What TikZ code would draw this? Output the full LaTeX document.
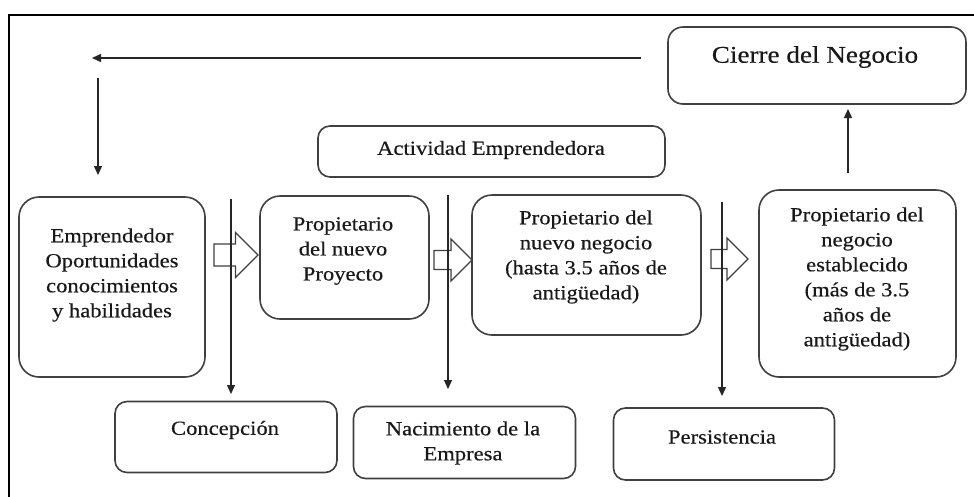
\documentclass[tikz,border=0pt]{standalone}
\usepackage{fontspec}
\setmainfont{Liberation Serif}[FakeStretch=1.13,FakeBold=0.4]
\usetikzlibrary{arrows.meta}
\tikzset{
  boxline/.style={draw=black!75, line width=1.6pt},
  rbox/.style={boxline, rounded corners=#1, inner sep=0pt},
  rbox/.default=20pt,
  txt/.style={inner sep=0pt, align=center, font=\fontsize{20}{25}\selectfont, text=black!90},
  conn/.style={draw=black!85, line width=1.3pt, -{Triangle[width=8pt,length=9pt]}},
  pics/blockarr/.style args={#1/#2/#3}{code={
    \draw[boxline, line width=1.3pt, line join=miter] (0,-#2) -- (#1-#3,-#2) -- (#1-#3,-#3) -- (#1,0) -- (#1-#3,#3) -- (#1-#3,#2) -- (0,#2) -- cycle;}}
}
\begin{document}
\begin{tikzpicture}[x=1pt,y=-1pt]
\useasboundingbox (0,0) rectangle (974,496);
\fill[white] (0,0) rectangle (974,496);
% outer frame
\draw[black, line width=1.5pt] (9,500) -- (9,15) -- (978,15);

% boxes
\node[rbox=15pt, minimum width=298pt, minimum height=77pt] (cierre) at (817,65.5) {};
\node[rbox=12pt, minimum width=347pt, minimum height=51pt] (act) at (491.5,151.5) {};
\node[rbox, minimum width=186pt, minimum height=180pt] (emp) at (112,287) {};
\node[rbox, minimum width=169pt, minimum height=123pt] (proy) at (344.5,257.5) {};
\node[rbox, minimum width=229pt, minimum height=140pt] (nuevo) at (586.5,265) {};
\node[rbox, minimum width=197pt, minimum height=187pt] (estab) at (857.5,283.5) {};
\node[rbox=12pt, minimum width=222pt, minimum height=71pt] (conc) at (226,437) {};
\node[rbox=12pt, minimum width=222pt, minimum height=72pt] (nac) at (464.5,442.5) {};
\node[rbox=12pt, minimum width=221pt, minimum height=72pt] (pers) at (724,444) {};

% texts
\node[txt, font=\fontsize{24}{28}\selectfont] (tcierre) at (815,57) {Cierre del Negocio};
\node[txt] (tact) at (491,150) {Actividad Emprendedora};
\node[txt] (temp) at (112,275) {Emprendedor\\Oportunidades\\conocimientos\\y habilidades};
\node[txt] (tproy) at (343,251) {Propietario\\del nuevo\\Proyecto};
\node[txt] (tnuevo) at (586,257) {Propietario del\\nuevo negocio\\(hasta 3.5 años de\\antigüedad)};
\node[txt] (testab) at (857,279) {Propietario del\\negocio\\establecido\\(más de 3.5\\años de\\antigüedad)};
\node[txt] (tconc) at (225,430) {Concepción};
\node[txt] (tnac) at (463,443) {Nacimiento de la\\Empresa};
\node[txt] (tpers) at (722,437) {Persistencia};

% block arrows
\pic at (214,255) {blockarr={44/11/22.5}};
\pic at (434,260) {blockarr={38/9.5/21}};
\pic at (711,259) {blockarr={37/9.5/21}};

% connector end points
\coordinate (topL) at (92,58);
\coordinate (topR) at (641,58);
\coordinate (dnA) at (98,78);
\coordinate (dnB) at (98,175);
\coordinate (v1a) at (231,199);
\coordinate (v1b) at (231,394);
\coordinate (v2a) at (448,195);
\coordinate (v2b) at (448,389);
\coordinate (v3a) at (722,202);
\coordinate (v3b) at (722,396);
\coordinate (upA) at (848,173);
\coordinate (upB) at (848,109);

% connectors
\draw[conn] (topR) -- (topL);
\draw[conn] (dnA) -- (dnB);
\draw[conn] (v1a) -- (v1b);
\draw[conn] (v2a) -- (v2b);
\draw[conn] (v3a) -- (v3b);
\draw[conn] (upA) -- (upB);
\end{tikzpicture}
\end{document}
